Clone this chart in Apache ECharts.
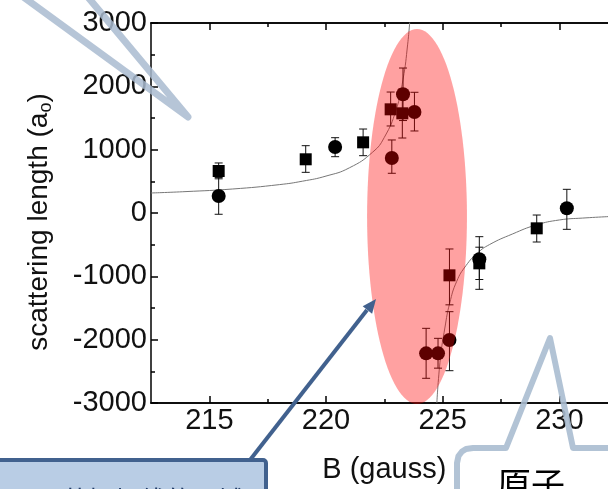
<!DOCTYPE html>
<html>
<head>
<meta charset="utf-8">
<script src="https://cdn.jsdelivr.net/npm/echarts@6/dist/echarts.min.js"></script>
<style>html,body{margin:0;padding:0;background:#fff}#c{width:608px;height:489px}</style>
</head>
<body>
<div id="c"></div>
<script>
// ---- data ----
const xMajorTicks = [215, 220, 225, 230];
const xMinorTicks = [217.5, 222.5, 227.5, 232.5];
const squarePoints = [[215.4, 663], [219.13, 848], [221.59, 1116], [222.77, 1637], [223.27, 1574], [225.29, -984], [226.57, -795], [229.03, -242]];
const circlePoints = [[215.4, 268], [220.39, 1042], [222.82, 868], [223.3, 1874], [223.79, 1595], [224.29, -2216], [224.8, -2216], [225.29, -2005], [226.57, -731], [230.32, 74]];
// [B, low, high]
const errorBars = [
  [215.4, 540, 790], [215.4, -20, 560], [219.13, 642, 1063], [220.39, 889, 1189], [221.59, 905, 1326],
  [222.82, 627, 1153], [222.77, 1374, 1910], [223.3, 1460, 2289], [223.27, 1184, 1960], [223.79, 1295, 1906],
  [225.29, -1450, -568], [226.57, -1205, -374], [226.57, -1050, -540], [229.03, -458, -32], [230.32, -258, 374],
  [224.29, -2610, -1821], [224.8, -2450, -1979], [225.29, -2490, -1558]
];
const fitUpper = [[212.5, 316], [214, 338], [216, 379], [218, 448], [219, 503], [220, 583], [221, 713], [222, 961], [222.5, 1195], [223, 1624], [223.3, 2110], [223.5, 2666], [223.6, 3083]];
const fitLower = [[224.75, -3000], [224.9, -2300], [225.1, -1800], [225.3, -1425], [225.6, -1080], [226, -830], [226.5, -630], [227, -500], [228, -330], [229, -190], [230, -110], [231, -80], [232.5, -50]];
// highlighted region (centre B, centre a, half-width B, half-height a)
const highlight = [[223.9, -55, 2.14, 2960]];

const FONT = 'Liberation Sans, Arial, sans-serif';
const chart = echarts.init(document.getElementById('c'), null, {renderer: 'canvas'});

function xAxisDef(pos, ticks, len, showLabel, name) {
  return {
    type: 'value', position: pos, min: 212.5, max: 232.5,
    axisLine: {show: true, onZero: false, lineStyle: {color: '#000', width: 1.5}},
    axisTick: {show: true, inside: true, length: len, customValues: ticks, lineStyle: {color: '#000', width: 1.5}},
    axisLabel: {show: showLabel, customValues: ticks, margin: 3, fontSize: 29, fontFamily: FONT, color: '#111'},
    splitLine: {show: false},
    name: name || '', nameLocation: 'middle', nameGap: 52,
    nameTextStyle: {fontSize: 29, fontFamily: FONT, color: '#111'}
  };
}

const option = {
  animation: false,
  backgroundColor: '#fff',
  grid: {left: 151, top: 23, height: 380, width: 466.7, outerBoundsMode: 'none', containLabel: false},
  xAxis: [
    xAxisDef('bottom', xMajorTicks, 7, true, 'B (gauss)'),
    xAxisDef('bottom', xMinorTicks, 4, false),
    xAxisDef('top', xMajorTicks, 7, false),
    xAxisDef('top', xMinorTicks, 4, false)
  ],
  yAxis: {
    type: 'value', min: -3000, max: 3000, interval: 1000,
    axisLine: {show: true, onZero: false, lineStyle: {color: '#000', width: 1.5}},
    axisTick: {show: true, inside: true, length: 7, lineStyle: {color: '#000', width: 1.5}},
    minorTick: {show: true, splitNumber: 2, length: 4, lineStyle: {color: '#000', width: 1.5}},
    axisLabel: {margin: 4, fontSize: 29, fontFamily: FONT, color: '#111', formatter: function (v) { return String(v); }},
    splitLine: {show: false}
  },
  series: [
    {type: 'line', data: fitUpper, smooth: true, showSymbol: false, lineStyle: {color: '#777', width: 1}, z: 2},
    {type: 'line', data: fitLower, smooth: true, showSymbol: false, lineStyle: {color: '#777', width: 1}, z: 2},
    {
      type: 'custom', data: errorBars, z: 3, encode: {x: 0, y: [1, 2]},
      renderItem: function (params, api) {
        const lo = api.coord([api.value(0), api.value(1)]);
        const hi = api.coord([api.value(0), api.value(2)]);
        const w = 4;
        const st = {stroke: '#111', lineWidth: 1};
        return {type: 'group', children: [
          {type: 'line', shape: {x1: lo[0], y1: lo[1], x2: hi[0], y2: hi[1]}, style: st},
          {type: 'line', shape: {x1: lo[0] - w, y1: lo[1], x2: lo[0] + w, y2: lo[1]}, style: st},
          {type: 'line', shape: {x1: hi[0] - w, y1: hi[1], x2: hi[0] + w, y2: hi[1]}, style: st}
        ]};
      }
    },
    {type: 'scatter', data: squarePoints, symbol: 'rect', symbolSize: 12, itemStyle: {color: '#000', opacity: 1}, z: 4},
    {type: 'scatter', data: circlePoints, symbol: 'circle', symbolSize: 14, itemStyle: {color: '#000', opacity: 1}, z: 4},
    {
      type: 'custom', data: highlight, z: 10, clip: false, encode: {x: 0, y: 1},
      renderItem: function (params, api) {
        const c = api.coord([api.value(0), api.value(1)]);
        const e = api.coord([api.value(0) + api.value(2), api.value(1) + api.value(3)]);
        const rx = e[0] - c[0], ry = c[1] - e[1];
        const pts = [];
        for (let i = 0; i < 120; i++) {
          const t = i / 120 * Math.PI * 2;
          pts.push([c[0] + rx * Math.cos(t), c[1] + ry * Math.sin(t)]);
        }
        return {type: 'polygon', shape: {points: pts}, style: {fill: 'rgba(255,0,0,0.37)'}};
      }
    }
  ],
  graphic: [
    {type: 'text', x: 40, y: 222, rotation: Math.PI / 2, z: 30,
      style: {text: '{m|scattering length (a}{s|o}{m|)}', align: 'center', verticalAlign: 'middle',
        rich: {
          m: {fontSize: 28, fontFamily: FONT, fill: '#111', lineHeight: 30, verticalAlign: 'top'},
          s: {fontSize: 18, fontFamily: FONT, fill: '#111', lineHeight: 18, verticalAlign: 'bottom', padding: [16, 0, 0, 0]}
        }}},
    {type: 'polyline', z: 40, shape: {points: [[22, -4], [188, 117], [87, -4]]},
      style: {stroke: '#a9bbd0', lineWidth: 7, fill: null, lineJoin: 'round', lineCap: 'round', opacity: 0.85}},
    {type: 'polyline', z: 40, shape: {points: [[457, 500], [457, 463], [458.5, 456], [462, 451.5], [466, 449], [473, 448], [506, 448], [550, 338], [573, 448], [620, 448]]},
      style: {stroke: '#aabcd0', lineWidth: 6, fill: null, lineJoin: 'round', opacity: 0.9}},
    {type: 'text', x: 497, y: 467, z: 41,
      style: {text: '原子', fontSize: 34, fontFamily: 'Noto Sans CJK SC', fill: '#000', verticalAlign: 'top'}},
    {type: 'rect', z: 40, shape: {x: -10, y: 460, width: 276, height: 50, r: 3},
      style: {fill: '#b9cde5', stroke: '#41618e', lineWidth: 4}},
    {type: 'text', x: 62, y: 487, z: 41,
      style: {text: '共振加线的区域', fontSize: 26, fontFamily: 'Noto Sans CJK SC', fill: '#1f3a66', verticalAlign: 'top'}},
    {type: 'line', z: 40, shape: {x1: 250, y1: 460, x2: 367, y2: 310},
      style: {stroke: '#41618e', lineWidth: 4}},
    {type: 'polygon', z: 40, shape: {points: [[376, 299], [372.1, 313.7], [362.7, 306.3]]},
      style: {fill: '#41618e'}}
  ]
};
chart.setOption(option);
</script>
</body>
</html>
